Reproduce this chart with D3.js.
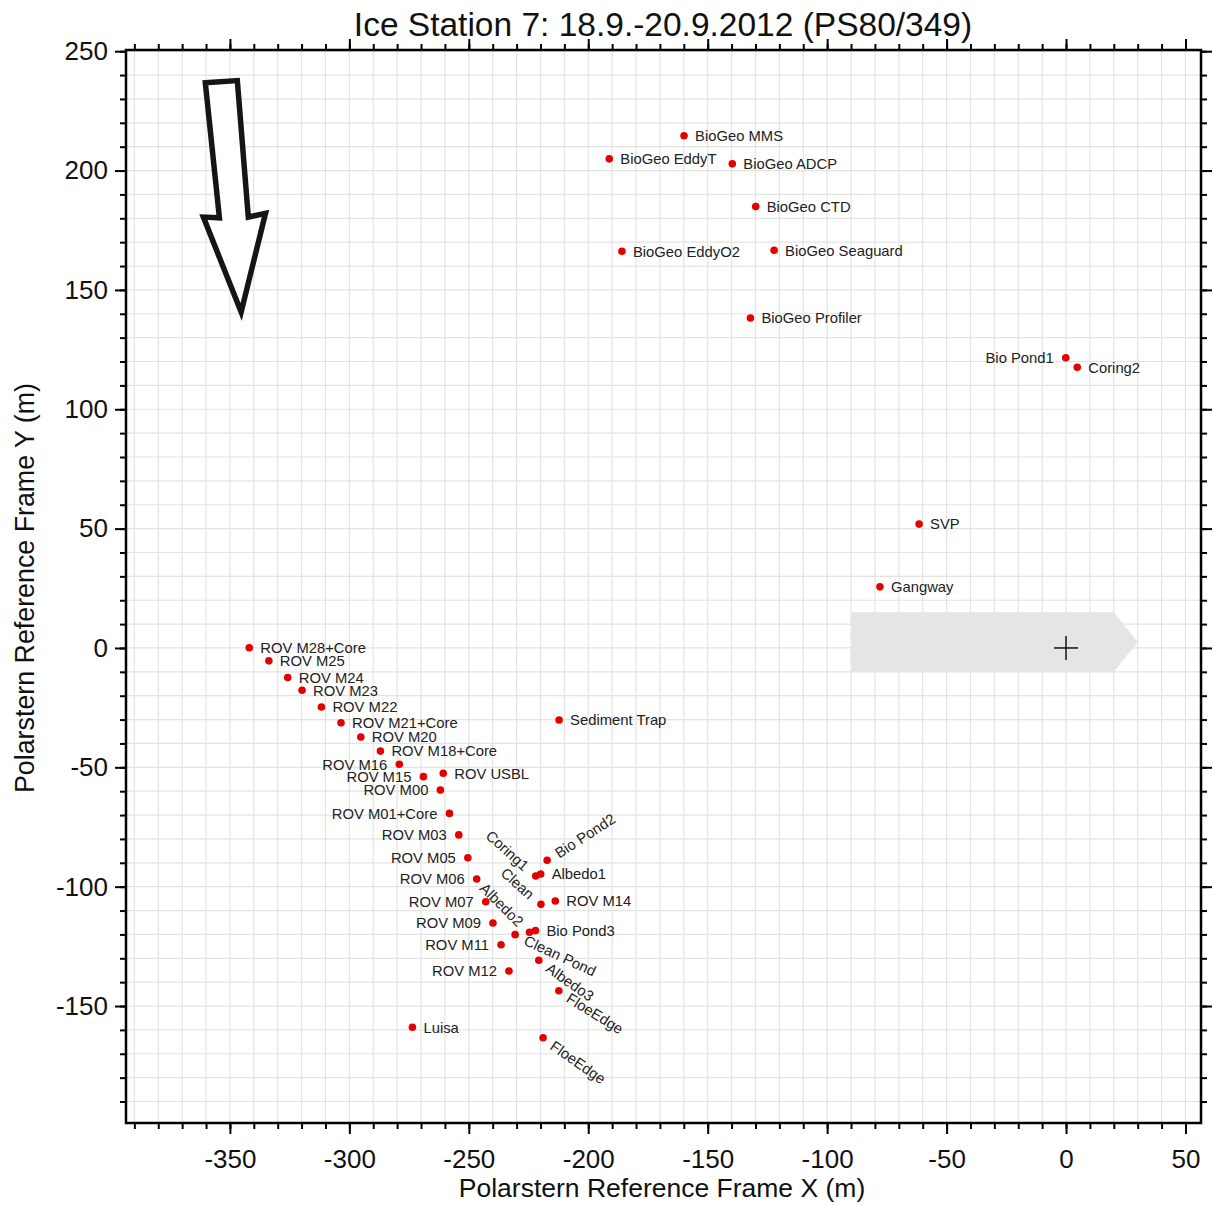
<!DOCTYPE html>
<html>
<head>
<meta charset="utf-8">
<script src="https://cdn.jsdelivr.net/npm/d3@7"></script>
<style>
  html, body { margin: 0; padding: 0; background: #fff; }
  svg { display: block; }
  text { font-family: "Liberation Sans", Arial, Helvetica, sans-serif; }
</style>
</head>
<body>
<svg id="chart" width="1213" height="1205"></svg>
<script>
// ---------- data ----------
const title = "Ice Station 7: 18.9.-20.9.2012 (PS80/349)";
const xLabel = "Polarstern Reference Frame X (m)";
const yLabel = "Polarstern Reference Frame Y (m)";

const xMajorTicks = [-350, -300, -250, -200, -150, -100, -50, 0, 50];
const yMajorTicks = [-150, -100, -50, 0, 50, 100, 150, 200, 250];

const stationNames = ["BioGeo MMS","BioGeo EddyT","BioGeo ADCP","BioGeo CTD","BioGeo EddyO2","BioGeo Seaguard","BioGeo Profiler",
  "Bio Pond1","Coring2","SVP","Gangway",
  "ROV M28+Core","ROV M25","ROV M24","ROV M23","ROV M22","ROV M21+Core","ROV M20","ROV M18+Core","ROV M16","ROV M15","ROV USBL","ROV M00",
  "ROV M01+Core","ROV M03","ROV M05","ROV M06","ROV M07","ROV M09","ROV M11","ROV M12","Luisa","Sediment Trap",
  "Bio Pond2","Coring1","Albedo1","Clean","ROV M14","Clean Pond","Albedo2","Bio Pond3","Albedo3","FloeEdge","FloeEdge"];
const stationX = [-159.9,-191.2,-139.7,-129.9,-185.9,-122.2,-132.1,
  -0.1,4.7,-61.5,-77.9,
  -341.9,-333.7,-325.8,-319.8,-311.7,-303.5,-295.2,-287.0,-279.1,-269.0,-260.7,-261.9,
  -258.1,-254.2,-250.4,-246.7,-242.9,-239.9,-236.5,-233.2,-273.6,-212.2,
  -217.2,-222.0,-219.9,-219.8,-213.8,-230.6,-224.6,-222.1,-220.7,-212.3,-218.9];
const stationY = [214.6,204.9,202.8,184.9,166.2,166.6,138.2,
  121.6,117.6,51.9,25.6,
  0.1,-5.4,-12.4,-17.7,-24.7,-31.3,-37.3,-43.2,-48.7,-53.9,-52.5,-59.5,
  -69.3,-78.3,-87.9,-96.8,-106.3,-115.2,-124.3,-135.3,-158.9,-30.2,
  -88.9,-95.5,-94.7,-107.4,-106.0,-120.1,-119.1,-118.4,-130.8,-143.6,-163.3];

// label layout (side of point and text rotation)
const labelSide = ["r","r","r","r","r","r","r",
  "l","r","r","r",
  "r","r","r","r","r","r","r","r","l","l","r","l",
  "l","l","l","l","l","l","l","l","r","r",
  "r","l","r","l","r","r","l","r","r","r","r"];
const labelAngle = [0,0,0,0,0,0,0,
  0,0,0,0,
  0,0,0,0,0,0,0,0,0,0,0,0,
  0,0,0,0,0,0,0,0,0,0,
  -33,42,0,42,0,25,45,0,35,32,35];

// ship outline (data coordinates) and heading arrow (data coordinates)
const shipOutline = [[-90,15],[20,15],[30,2.5],[20,-10],[-90,-10]];
const arrowOutline = [[-360.3,236.8],[-346.9,237.7],[-342.3,180.5],[-335.1,182.1],[-345.3,140.7],[-361.1,180.5],[-354.4,180.2]];

// ---------- layout ----------
const svg = d3.select("#chart");
const pL = 126, pR = 1201, pT = 50, pB = 1123;
const x = d3.scaleLinear().domain([-393.5, 56.5]).range([pL, pR]);
const y = d3.scaleLinear().domain([-199, 250.5]).range([pB, pT]);

const xMinor = d3.range(-390, 51, 10);
const yMinor = d3.range(-190, 251, 10);

// grid
const grid = svg.append("g");
grid.selectAll("line.gx").data(xMinor).join("line")
  .attr("x1", d => x(d)).attr("x2", d => x(d)).attr("y1", pT).attr("y2", pB)
  .attr("stroke", "#e3e3e3").attr("stroke-width", 1.2);
grid.selectAll("line.gy").data(yMinor).join("line")
  .attr("y1", d => y(d)).attr("y2", d => y(d)).attr("x1", pL).attr("x2", pR)
  .attr("stroke", "#e3e3e3").attr("stroke-width", 1.2);

// ship
svg.append("polygon")
  .attr("points", shipOutline.map(p => [x(p[0]), y(p[1])].join(",")).join(" "))
  .attr("fill", "#e5e5e5");
svg.append("line").attr("x1", x(0) - 12).attr("x2", x(0) + 12).attr("y1", y(0)).attr("y2", y(0))
  .attr("stroke", "#111").attr("stroke-width", 1.5);
svg.append("line").attr("x1", x(0)).attr("x2", x(0)).attr("y1", y(0) - 12).attr("y2", y(0) + 12)
  .attr("stroke", "#111").attr("stroke-width", 1.5);

// arrow
svg.append("polygon")
  .attr("points", arrowOutline.map(p => [x(p[0]), y(p[1])].join(",")).join(" "))
  .attr("fill", "#fff").attr("stroke", "#151515").attr("stroke-width", 5.5).attr("stroke-linejoin", "miter");

// axes (ticks outward on all four sides)
function styleAxis(g) {
  g.select(".domain").remove();
  g.selectAll(".tick line").attr("stroke", "#000").attr("stroke-width", 2);
  g.selectAll(".tick text").attr("font-size", 26).attr("fill", "#111")
    .style("font-family", "'Liberation Sans', Arial, Helvetica, sans-serif");
}
const minorLen = 6, majorLen = 11;
svg.append("g").attr("transform", `translate(0,${pB})`)
  .call(d3.axisBottom(x).tickValues(xMinor).tickSize(minorLen).tickFormat("")).call(styleAxis);
svg.append("g").attr("transform", `translate(0,${pT})`)
  .call(d3.axisTop(x).tickValues(xMinor).tickSize(minorLen).tickFormat("")).call(styleAxis);
svg.append("g").attr("transform", `translate(${pL},0)`)
  .call(d3.axisLeft(y).tickValues(yMinor).tickSize(minorLen).tickFormat("")).call(styleAxis);
svg.append("g").attr("transform", `translate(${pR},0)`)
  .call(d3.axisRight(y).tickValues(yMinor).tickSize(minorLen).tickFormat("")).call(styleAxis);

svg.append("g").attr("transform", `translate(0,${pB})`)
  .call(d3.axisBottom(x).tickValues(xMajorTicks).tickSize(majorLen).tickPadding(16).tickFormat(d3.format("d"))).call(styleAxis);
svg.append("g").attr("transform", `translate(0,${pT})`)
  .call(d3.axisTop(x).tickValues(xMajorTicks).tickSize(majorLen).tickFormat("")).call(styleAxis);
svg.append("g").attr("transform", `translate(${pL},0)`)
  .call(d3.axisLeft(y).tickValues(yMajorTicks).tickSize(majorLen).tickPadding(7).tickFormat(d3.format("d"))).call(styleAxis);
svg.append("g").attr("transform", `translate(${pR},0)`)
  .call(d3.axisRight(y).tickValues(yMajorTicks).tickSize(majorLen).tickFormat("")).call(styleAxis);

// use hyphen-minus for negative labels
svg.selectAll(".tick text").text(function() { return this.textContent.replace("\u2212", "-"); });

// frame
svg.append("rect").attr("x", pL).attr("y", pT).attr("width", pR - pL).attr("height", pB - pT)
  .attr("fill", "none").attr("stroke", "#000").attr("stroke-width", 2.5);

// points
const idx = d3.range(stationNames.length);
svg.append("g").selectAll("circle").data(idx).join("circle")
  .attr("cx", i => x(stationX[i])).attr("cy", i => y(stationY[i])).attr("r", 3.8)
  .attr("fill", "#e30000");

// labels
const lab = svg.append("g").selectAll("g").data(idx).join("g")
  .attr("transform", i => `translate(${x(stationX[i])},${y(stationY[i])}) rotate(${labelAngle[i]})`);
lab.append("text")
  .attr("x", i => labelSide[i] === "r" ? 11 : -12)
  .attr("dy", "0.36em")
  .attr("text-anchor", i => labelSide[i] === "r" ? "start" : "end")
  .attr("font-size", 14.8).attr("fill", "#222")
  .text(i => stationNames[i]);

// titles
svg.append("text").attr("x", 663).attr("y", 36).attr("text-anchor", "middle")
  .attr("font-size", 33.5).attr("fill", "#111").text(title);
svg.append("text").attr("x", 662).attr("y", 1197).attr("text-anchor", "middle")
  .attr("font-size", 26.5).attr("fill", "#111").text(xLabel);
svg.append("text").attr("transform", "translate(34,588) rotate(-90)").attr("text-anchor", "middle")
  .attr("font-size", 26.8).attr("fill", "#111").text(yLabel);
</script>
</body>
</html>
